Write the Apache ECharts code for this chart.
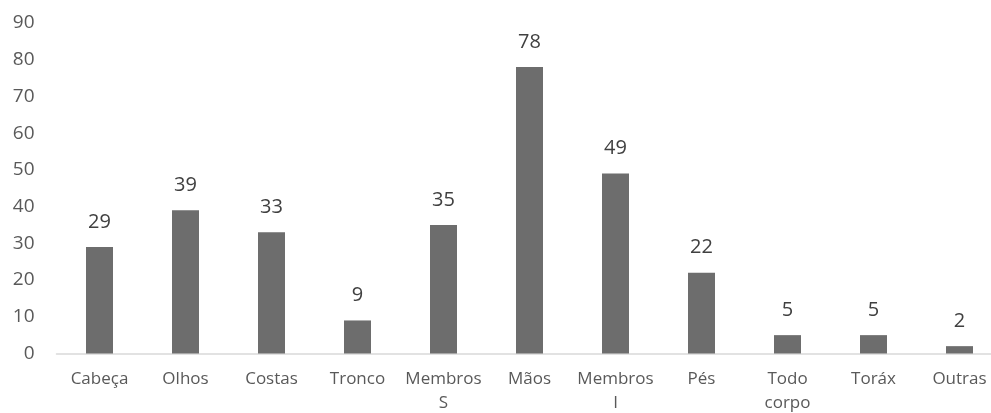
<!DOCTYPE html>
<html>
<head>
<meta charset="utf-8">
<script src="https://cdn.jsdelivr.net/npm/echarts@6/dist/echarts.min.js"></script>
<style>
html,body{margin:0;padding:0;background:#fff;}
#chart{width:991px;height:413px;}
</style>
</head>
<body>
<div id="chart"></div>
<script>
var categories = ['Cabeça', 'Olhos', 'Costas', 'Tronco', 'Membros\nS', 'Mãos', 'Membros\nI', 'Pés', 'Todo\ncorpo', 'Toráx', 'Outras'];
var values = [29, 39, 33, 9, 35, 78, 49, 22, 5, 5, 2];
var yTicks = {min: 0, max: 90, interval: 10};

var chart = echarts.init(document.getElementById('chart'));
chart.setOption({
  animation: false,
  grid: {left: 56.5, top: 23, width: 946, height: 330.5, containLabel: false, outerBoundsMode: 'none'},
  xAxis: {
    type: 'category',
    data: categories,
    axisLine: {lineStyle: {color: '#d9d9d9', width: 1.5}},
    axisTick: {show: false},
    axisLabel: {color: '#595959', fontFamily: 'Open Sans', fontSize: 17, margin: 14, lineHeight: 24, interval: 0}
  },
  yAxis: {
    type: 'value',
    min: yTicks.min, max: yTicks.max, interval: yTicks.interval,
    splitLine: {show: false},
    axisLine: {show: false},
    axisTick: {show: false},
    axisLabel: {color: '#595959', fontFamily: 'Open Sans', fontSize: 19, margin: 22}
  },
  series: [{
    type: 'bar',
    data: values,
    barWidth: 27,
    itemStyle: {color: '#6d6d6d'},
    label: {show: true, position: 'top', distance: 15, color: '#404040', fontFamily: 'Open Sans', fontSize: 20}
  }]
});
</script>
</body>
</html>
